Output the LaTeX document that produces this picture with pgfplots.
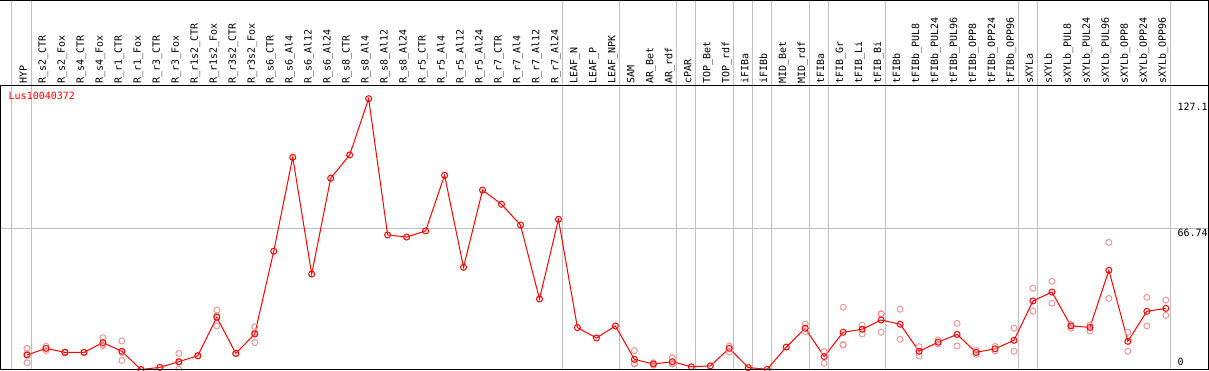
\documentclass[border=0pt]{standalone}
\usepackage{pgfplots}
\pgfplotsset{compat=1.18}
\usepackage{fontspec}
\newfontfamily\lblfont{DejaVu Sans Mono}
\definecolor{gridgray}{RGB}{192,192,192}
\definecolor{reppink}{RGB}{234,152,152}
\begin{document}
\begin{tikzpicture}
\begin{axis}[
  at={(0pt,0pt)}, anchor=south west,
  scale only axis, width=1209pt, height=285pt,
  xmin=-1.4225, xmax=62.276,
  ymin=-0.236, ymax=134.47,
  axis line style={draw=none},
  clip=false,
  xtick={0,...,60},
  xticklabels={HYP,R\_s2\_CTR,R\_s2\_Fox,R\_s4\_CTR,R\_s4\_Fox,R\_r1\_CTR,R\_r1\_Fox,R\_r3\_CTR,R\_r3\_Fox,R\_r1s2\_CTR,R\_r1s2\_Fox,R\_r3s2\_CTR,R\_r3s2\_Fox,R\_s6\_CTR,R\_s6\_Al4,R\_s6\_Al12,R\_s6\_Al24,R\_s8\_CTR,R\_s8\_Al4,R\_s8\_Al12,R\_s8\_Al24,R\_r5\_CTR,R\_r5\_Al4,R\_r5\_Al12,R\_r5\_Al24,R\_r7\_CTR,R\_r7\_Al4,R\_r7\_Al12,R\_r7\_Al24,LEAF\_N,LEAF\_P,LEAF\_NPK,SAM,AR\_Bet,AR\_rdf,cPAR,TOP\_Bet,TOP\_rdf,iFIBa,iFIBb,MID\_Bet,MID\_rdf,tFIBa,tFIB\_Gr,tFIB\_Li,tFIB\_Bi,tFIBb,tFIBb\_PUL8,tFIBb\_PUL24,tFIBb\_PUL96,tFIBb\_OPP8,tFIBb\_OPP24,tFIBb\_OPP96,sXYLa,sXYLb,sXYLb\_PUL8,sXYLb\_PUL24,sXYLb\_PUL96,sXYLb\_OPP8,sXYLb\_OPP24,sXYLb\_OPP96},
  xticklabel pos=upper,
  major tick length=0pt,
  xticklabel style={rotate=90, anchor=base west, inner xsep=1.5pt, inner ysep=0pt, font=\lblfont\fontsize{10}{12}\selectfont},
  ytick=\empty,
]
% group separators and reference line
\foreach \gx in {-0.8,0.22,28.22,31.22,34.22,35.22,37.22,38.22,39.22,41.22,42.22,45.22,52.22,53.22,60.22}{
  \edef\tmp{\noexpand\draw[gridgray, line width=1pt] (axis cs:\gx,-0.236) -- (axis cs:\gx,174.65);}\tmp
}
\draw[gridgray, line width=1pt] (axis cs:-1.4225,66.74) -- (axis cs:62.276,66.74);
% replicates
\addplot[only marks, mark=o, mark size=3pt, draw=reppink, mark options={line width=1pt, draw=reppink}] table {
x y
0 10.0
0 3.2
0 7.3
1 11.0
1 9.0
2 8.3
2 7.9
3 8.1
4 15.0
4 11.3
4 11.8
5 13.5
5 4.3
5 8.0
6 0.0
7 1.0
8 7.6
8 0.1
8 3.4
9 6.5
10 28.1
10 20.6
10 25.4
11 7.6
12 20.2
12 12.7
12 17.5
32 8.9
32 2.9
32 2.6
33 3.2
33 2.0
34 5.6
34 2.6
34 2.9
37 11.1
37 8.3
41 21.5
41 17.9
42 8.4
42 2.9
43 29.4
43 11.6
43 11.8
44 21.0
44 16.8
45 26.2
45 17.6
45 26.4
46 28.5
46 14.3
47 10.8
47 6.5
48 14.0
48 12.0
49 21.8
49 11.1
50 9.0
50 7.2
51 10.9
51 8.8
52 19.5
52 8.6
53 38.4
53 27.5
54 41.7
54 31.3
55 21.3
55 19.5
56 21.0
56 18.2
57 60.1
57 33.6
58 17.6
58 8.6
59 34.1
59 20.6
60 32.8
60 25.6
};
% means
\addplot[red, line width=1pt, mark=o, mark size=3pt, mark options={line width=1pt}] table {
x y
0 6.85
1 10.0
2 8.1
3 8.1
4 12.7
5 8.6
6 0.0
7 1.0
8 3.7
9 6.5
10 24.7
11 7.6
12 16.8
13 55.9
14 100.3
15 45.1
16 90.4
17 101.4
18 128.0
19 63.6
20 62.6
21 65.5
22 91.8
23 48.3
24 84.8
25 78.1
26 68.3
27 33.3
28 71.0
29 19.8
30 14.9
31 20.6
32 4.8
33 2.6
34 3.7
35 1.3
36 1.7
37 10.0
38 0.9
39 0.1
40 10.6
41 19.5
42 6.1
43 17.6
44 19.0
45 23.4
46 21.4
47 8.6
48 12.9
49 16.6
50 8.1
51 9.8
52 13.8
53 32.4
54 36.6
55 20.6
56 19.9
57 46.9
58 13.3
59 27.5
60 28.9
};
\end{axis}
% frame
\draw[black, line width=1pt] (0pt,369.5pt) -- (1209pt,369.5pt);
\draw[black, line width=1pt] (0pt,284.5pt) -- (1209pt,284.5pt);
\draw[black, line width=1pt] (0pt,0.5pt) -- (1209pt,0.5pt);
\draw[black, line width=1pt] (0.5pt,0pt) -- (0.5pt,284.5pt);
\draw[black, line width=1pt] (1208.5pt,0pt) -- (1208.5pt,370pt);
% texts
\node[anchor=base west, inner sep=0pt, text=red, font=\lblfont\fontsize{10}{12}\selectfont] at (8.5pt,270.5pt) {Lus10040372};
\node[anchor=base west, inner sep=0pt, font=\lblfont\fontsize{10}{12}\selectfont] at (1177.3pt,259pt) {127.1};
\node[anchor=base west, inner sep=0pt, font=\lblfont\fontsize{10}{12}\selectfont] at (1177.3pt,134pt) {66.74};
\node[anchor=base west, inner sep=0pt, font=\lblfont\fontsize{10}{12}\selectfont] at (1177.3pt,4.5pt) {0};
\pgfresetboundingbox
\useasboundingbox (0pt,0pt) rectangle (1209pt,370pt);
\end{tikzpicture}
\end{document}
